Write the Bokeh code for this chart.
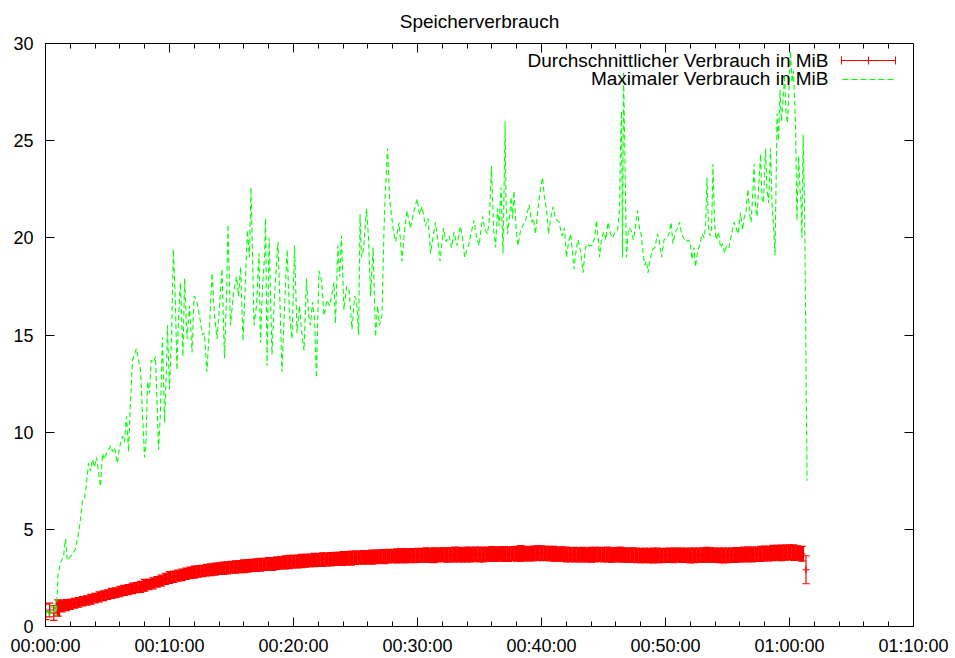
import numpy as np
from bokeh.plotting import figure
from bokeh.models import (ColumnDataSource, FixedTicker, Range1d, Grid,
                          Label, Arrow)
from bokeh.embed import file_html
from bokeh.resources import INLINE

FONT = "Liberation Sans"

# ---------------- data ----------------
title_text = "Speicherverbrauch"
label_avg = "Durchschnittlicher Verbrauch in MiB"
label_max = "Maximaler Verbrauch in MiB"

x_tick_secs = [0, 600, 1200, 1800, 2400, 3000, 3600, 4200]
x_tick_labels = ["00:00:00", "00:10:00", "00:20:00", "00:30:00",
                 "00:40:00", "00:50:00", "01:00:00", "01:10:00"]
x_minor_secs = list(range(0, 4201, 120))
y_tick_vals = [0, 5, 10, 15, 20, 25, 30]

# maximum usage (green), time in seconds
max_t = [
    0, 10, 19, 29, 39, 48, 53, 60, 73, 87,
    97, 106, 121, 135, 145, 160, 169, 179, 189, 198,
    208, 218, 227, 237, 247, 256, 266, 276, 285, 295,
    305, 315, 324, 334, 348, 358, 373, 382, 392, 402,
    411, 421, 431, 440, 450, 460, 469, 479, 486, 494,
    503, 511, 523, 532, 540, 547, 556, 566, 576, 586,
    590, 600, 610, 619, 629, 636, 644, 653, 665, 673,
    685, 697, 709, 719, 731, 745, 760, 769, 781, 794,
    806, 818, 830, 842, 854, 866, 876, 883, 895, 910,
    924, 934, 944, 956, 968, 977, 987, 994, 1002, 1009,
    1021, 1033, 1040, 1050, 1060, 1065, 1072, 1082, 1096, 1108,
    1125, 1135, 1144, 1157, 1169, 1181, 1193, 1205, 1217, 1229,
    1239, 1251, 1263, 1273, 1282, 1292, 1302, 1311, 1323, 1336,
    1348, 1362, 1374, 1384, 1396, 1403, 1415, 1423, 1432, 1444,
    1457, 1469, 1483, 1496, 1505, 1515, 1522, 1529, 1539, 1553,
    1563, 1573, 1585, 1597, 1607, 1616, 1628, 1638, 1645, 1655,
    1665, 1674, 1684, 1694, 1711, 1725, 1737, 1749, 1766, 1781,
    1798, 1810, 1822, 1839, 1851, 1863, 1875, 1887, 1897, 1909,
    1926, 1938, 1953, 1965, 1977, 1991, 2008, 2018, 2028, 2049,
    2061, 2073, 2086, 2098, 2115, 2124, 2139, 2148, 2158, 2168,
    2178, 2187, 2195, 2204, 2214, 2224, 2228, 2236, 2245, 2253,
    2260, 2267, 2277, 2286, 2299, 2308, 2323, 2340, 2352, 2361,
    2371, 2383, 2395, 2405, 2415, 2424, 2434, 2444, 2456, 2468,
    2485, 2499, 2511, 2521, 2531, 2540, 2548, 2557, 2569, 2577,
    2589, 2601, 2613, 2623, 2632, 2645, 2657, 2666, 2674, 2681,
    2690, 2703, 2712, 2722, 2734, 2744, 2756, 2768, 2778, 2782,
    2787, 2792, 2797, 2804, 2811, 2821, 2833, 2845, 2855, 2865,
    2874, 2882, 2889, 2899, 2908, 2915, 2928, 2937, 2949, 2961,
    2971, 2981, 2993, 3005, 3017, 3027, 3036, 3049, 3058, 3068,
    3078, 3087, 3099, 3109, 3119, 3128, 3138, 3145, 3155, 3165,
    3177, 3187, 3194, 3201, 3208, 3216, 3223, 3230, 3237, 3245,
    3257, 3266, 3276, 3286, 3295, 3307, 3320, 3332, 3342, 3351,
    3363, 3373, 3380, 3390, 3399, 3407, 3414, 3421, 3429, 3436,
    3443, 3450, 3460, 3467, 3474, 3484, 3491, 3499, 3508, 3516,
    3523, 3530, 3540, 3547, 3554, 3561, 3569, 3576, 3583, 3590,
    3597, 3605, 3612, 3619, 3629, 3636, 3644, 3651, 3656, 3660,
    3666, 3673, 3685,
]
max_v = [
    0.6, 0.9, 0.5, 1.1, 0.7, 1.2, 0.5, 2.6, 3.3, 3.6,
    4.5, 3.4, 3.6, 3.8, 4.0, 4.8, 5.5, 6.5, 6.6, 7.3,
    8.4, 8.0, 8.6, 8.2, 8.7, 8.0, 7.2, 8.9, 8.6, 8.9,
    9.1, 9.3, 9.0, 9.2, 8.4, 9.2, 9.8, 9.5, 10.8, 9.0,
    11.5, 13.7, 14.0, 14.3, 13.7, 13.2, 11.0, 8.7, 9.5, 12.6,
    12.0, 13.7, 13.6, 13.9, 11.5, 9.1, 11.0, 14.9, 10.5, 13.5,
    15.5, 12.2, 15.0, 19.4, 16.5, 13.2, 16.0, 17.7, 13.9, 17.9,
    14.8, 16.5, 14.1, 17.0, 16.8, 16.0, 15.0, 15.1, 13.1, 15.5,
    18.2, 16.0, 14.8, 16.5, 18.4, 13.8, 17.0, 20.7, 15.5, 17.2,
    18.0, 17.0, 18.5, 14.7, 18.0, 20.4, 19.0, 22.6, 19.0, 15.5,
    16.5, 19.2, 14.6, 17.5, 19.0, 21.0, 13.4, 20.0, 14.0, 17.0,
    19.8, 16.5, 13.1, 16.5, 19.4, 16.0, 14.8, 19.6, 15.1, 16.5,
    15.2, 14.2, 17.9, 16.0, 15.5, 16.7, 15.8, 12.8, 18.3, 17.8,
    16.0, 16.8, 16.5, 17.0, 17.7, 15.6, 19.6, 18.0, 20.1, 16.3,
    17.5, 17.3, 15.3, 17.0, 16.8, 15.0, 21.2, 19.0, 19.4, 21.5,
    20.0, 17.0, 19.5, 14.9, 16.5, 15.5, 16.0, 20.5, 22.5, 24.6,
    22.0, 21.2, 20.3, 19.8, 20.8, 18.8, 20.3, 21.4, 20.5, 21.3,
    22.0, 21.2, 21.6, 20.6, 21.0, 19.2, 20.0, 20.8, 20.0, 18.8,
    20.5, 19.8, 20.1, 19.5, 20.3, 19.6, 20.6, 20.0, 19.0, 19.7,
    20.3, 20.9, 20.0, 19.6, 21.1, 20.5, 20.2, 21.0, 23.7, 20.5,
    19.5, 21.5, 20.6, 22.6, 19.2, 26.0, 22.0, 20.2, 21.0, 22.1,
    21.0, 22.4, 20.5, 19.6, 20.4, 20.6, 20.9, 21.7, 20.8, 21.0,
    20.2, 21.5, 22.5, 23.1, 22.0, 21.5, 20.2, 21.0, 21.6, 21.0,
    20.8, 20.1, 20.5, 19.0, 19.8, 20.2, 19.5, 18.4, 19.5, 19.9,
    19.3, 18.2, 19.5, 19.7, 19.6, 19.6, 20.0, 20.9, 20.0, 19.0,
    20.0, 20.3, 19.9, 20.8, 20.2, 20.0, 20.3, 20.4, 21.5, 24.6,
    26.5, 19.0, 28.5, 24.0, 19.0, 20.5, 20.4, 19.9, 20.6, 21.4,
    20.5, 20.2, 19.5, 18.6, 18.8, 18.2, 19.0, 19.4, 19.5, 20.2,
    19.8, 19.0, 19.9, 20.0, 20.2, 20.8, 19.7, 20.3, 20.5, 20.8,
    20.2, 20.0, 19.8, 19.9, 19.8, 18.9, 19.5, 18.5, 19.3, 19.6,
    20.2, 20.0, 20.6, 23.1, 20.5, 20.1, 20.5, 23.8, 20.8, 19.9,
    20.3, 19.5, 19.7, 19.2, 19.6, 19.5, 20.2, 20.8, 20.5, 20.2,
    21.3, 20.4, 21.0, 21.4, 22.5, 21.2, 20.8, 22.0, 23.8, 21.5,
    21.1, 22.5, 24.3, 22.0, 21.8, 24.6, 22.5, 21.8, 24.6, 21.6,
    20.5, 19.1, 26.4, 25.0, 27.6, 26.0, 27.1, 28.4, 26.5, 25.9,
    27.5, 29.6, 28.0, 28.6, 25.9, 20.9, 24.2, 22.5, 21.8, 20.0,
    25.3, 21.6, 7.5,
]

# average usage (red) with error, sampled every 20 s
avg_t = list(range(0, 3700, 20))
avg_v = [
    0.75, 0.85, 0.70, 0.95, 1.05, 1.10, 1.14, 1.20, 1.24, 1.30,
    1.34, 1.40, 1.46, 1.52, 1.58, 1.64, 1.70, 1.74, 1.80, 1.86,
    1.90, 1.96, 2.00, 2.04, 2.12, 2.16, 2.22, 2.30, 2.36, 2.45,
    2.52, 2.56, 2.62, 2.66, 2.72, 2.76, 2.80, 2.84, 2.86, 2.90,
    2.92, 2.95, 2.98, 3.00, 3.02, 3.05, 3.06, 3.08, 3.10, 3.12,
    3.14, 3.16, 3.18, 3.20, 3.22, 3.22, 3.26, 3.28, 3.30, 3.32,
    3.34, 3.35, 3.37, 3.38, 3.40, 3.42, 3.42, 3.44, 3.45, 3.46,
    3.48, 3.48, 3.50, 3.52, 3.52, 3.54, 3.55, 3.56, 3.56, 3.57,
    3.58, 3.60, 3.60, 3.62, 3.62, 3.63, 3.64, 3.64, 3.65, 3.65,
    3.66, 3.66, 3.68, 3.66, 3.67, 3.68, 3.70, 3.68, 3.69, 3.70,
    3.70, 3.69, 3.71, 3.70, 3.72, 3.71, 3.70, 3.72, 3.73, 3.72,
    3.74, 3.73, 3.72, 3.75, 3.74, 3.76, 3.75, 3.74, 3.76, 3.78,
    3.77, 3.76, 3.75, 3.74, 3.72, 3.73, 3.71, 3.70, 3.70, 3.69,
    3.70, 3.68, 3.69, 3.70, 3.71, 3.69, 3.70, 3.68, 3.69, 3.70,
    3.68, 3.67, 3.68, 3.66, 3.65, 3.66, 3.64, 3.65, 3.66, 3.65,
    3.66, 3.67, 3.66, 3.68, 3.67, 3.66, 3.65, 3.66, 3.67, 3.68,
    3.69, 3.68, 3.67, 3.66, 3.65, 3.66, 3.67, 3.68, 3.69, 3.70,
    3.71, 3.70, 3.72, 3.74, 3.76, 3.75, 3.78, 3.80, 3.79, 3.80,
    3.82, 3.80, 3.78, 3.74, 2.92,
]
avg_err = [
    0.40, 0.35, 0.38, 0.42, 0.30, 0.28, 0.26, 0.25, 0.25, 0.24,
    0.24, 0.25, 0.24, 0.26, 0.25, 0.24, 0.26, 0.25, 0.27, 0.26,
    0.26, 0.27, 0.26, 0.28, 0.30, 0.27, 0.28, 0.27, 0.28, 0.29,
    0.30, 0.29, 0.28, 0.30, 0.29, 0.30, 0.31, 0.30, 0.29, 0.30,
    0.30, 0.31, 0.30, 0.32, 0.31, 0.30, 0.32, 0.31, 0.33, 0.32,
    0.31, 0.32, 0.33, 0.31, 0.32, 0.33, 0.32, 0.31, 0.33, 0.34,
    0.32, 0.33, 0.34, 0.33, 0.32, 0.34, 0.33, 0.35, 0.33, 0.34,
    0.34, 0.33, 0.35, 0.34, 0.36, 0.34, 0.33, 0.35, 0.34, 0.36,
    0.35, 0.34, 0.36, 0.35, 0.34, 0.36, 0.35, 0.37, 0.35, 0.36,
    0.36, 0.35, 0.37, 0.36, 0.38, 0.36, 0.35, 0.37, 0.36, 0.38,
    0.37, 0.36, 0.38, 0.37, 0.36, 0.38, 0.37, 0.36, 0.38, 0.37,
    0.36, 0.38, 0.37, 0.36, 0.38, 0.40, 0.37, 0.36, 0.38, 0.37,
    0.38, 0.36, 0.37, 0.38, 0.36, 0.37, 0.38, 0.36, 0.37, 0.36,
    0.37, 0.36, 0.38, 0.37, 0.36, 0.37, 0.38, 0.37, 0.36, 0.38,
    0.37, 0.36, 0.37, 0.38, 0.36, 0.37, 0.36, 0.38, 0.37, 0.36,
    0.36, 0.37, 0.38, 0.36, 0.37, 0.36, 0.38, 0.37, 0.36, 0.37,
    0.38, 0.37, 0.36, 0.37, 0.38, 0.37, 0.36, 0.38, 0.37, 0.38,
    0.37, 0.38, 0.37, 0.39, 0.38, 0.37, 0.39, 0.38, 0.40, 0.39,
    0.38, 0.40, 0.37, 0.38, 0.72,
]

# ---------------- figure ----------------
RED = "#ff0000"
GREEN = "#00ff00"
X0, X1, Y0, Y1 = 0, 4200, 0, 30
FRAME_W, FRAME_H = 868, 585   # plot frame in pixels

p = figure(width=955, height=658, output_backend="svg", toolbar_location=None,
           x_range=Range1d(X0, X1), y_range=Range1d(Y0, Y1),
           min_border_left=45, min_border_right=42,
           min_border_top=43, min_border_bottom=30)
p.xgrid.visible = False
p.ygrid.visible = False
p.background_fill_color = "white"
p.border_fill_color = "white"
p.outline_line_color = "black"
p.outline_line_width = 1

p.title.text = title_text
p.title.align = "center"
p.title.vertical_align = "top"
p.title.text_font = FONT
p.title.text_font_size = "19px"
p.title.text_font_style = "normal"
p.title.text_color = "black"
p.title.standoff = 20

x_ticker = FixedTicker(ticks=x_tick_secs, minor_ticks=x_minor_secs)
y_ticker = FixedTicker(ticks=y_tick_vals, minor_ticks=[])


def style_axis(ax, minor=True):
    ax.axis_line_color = "black"
    ax.major_tick_line_color = "black"
    ax.minor_tick_line_color = "black"
    ax.major_tick_in = 9
    ax.major_tick_out = 0
    ax.minor_tick_in = 5 if minor else 0
    ax.minor_tick_out = 0
    ax.major_label_text_font = FONT
    ax.major_label_text_color = "black"
    ax.major_label_text_font_size = "18px"


xb = p.xaxis[0]
xb.ticker = x_ticker
xb.major_label_overrides = {s: l for s, l in zip(x_tick_secs, x_tick_labels)}
style_axis(xb)
xb.major_label_standoff = 9

yl = p.yaxis[0]
yl.ticker = y_ticker
style_axis(yl, minor=False)
yl.major_label_standoff = 12

# mirrored tick marks on the top and right edges (short grid segments)
px_y = (Y1 - Y0) / FRAME_H
px_x = (X1 - X0) / FRAME_W
p.add_layout(Grid(dimension=0, ticker=FixedTicker(ticks=x_tick_secs),
                  cross_bounds=(Y1 - 9 * px_y, Y1), grid_line_color="black"))
p.add_layout(Grid(dimension=0, ticker=FixedTicker(ticks=x_minor_secs),
                  cross_bounds=(Y1 - 5 * px_y, Y1), grid_line_color="black"))
p.add_layout(Grid(dimension=1, ticker=FixedTicker(ticks=y_tick_vals),
                  cross_bounds=(X1 - 9 * px_x, X1), grid_line_color="black"))

# ---------------- data glyphs ----------------
t = np.array(avg_t, dtype=float)
m = np.array(avg_v)
e = np.array(avg_err)
CAP = 18.0  # half width of error bar caps, seconds
lw = np.full(len(t), 4.5)
lw[:3] = 1.2   # isolated bars at the very start
lw[-1] = 1.2   # isolated last bar
src = ColumnDataSource(dict(t=t, m=m, lo=m - e, hi=m + e,
                            c0=t - CAP, c1=t + CAP, lw=lw))

p.segment(x0="t", y0="lo", x1="t", y1="hi", source=src,
          line_color=RED, line_width="lw")
p.segment(x0="c0", y0="hi", x1="c1", y1="hi", source=src,
          line_color=RED, line_width=1.2)
p.segment(x0="c0", y0="lo", x1="c1", y1="lo", source=src,
          line_color=RED, line_width=1.2)
p.scatter(x="t", y="m", source=src, marker="cross", size=7,
          line_color=RED, line_width=1.2)

p.line(max_t, max_v, line_color=GREEN, line_width=1.1, line_dash="5 3")

# ---------------- key (screen units inside the frame) ----------------
for txt, yy in ((label_avg, 566), (label_max, 548)):
    p.add_layout(Label(x=783, y=yy, x_units="screen", y_units="screen",
                       text=txt, text_align="right", text_baseline="middle",
                       text_font=FONT, text_font_size="19px",
                       text_color="black"))


def key_line(xa, ya, xb_, yb, color, dash="solid"):
    p.add_layout(Arrow(x_start=xa, y_start=ya, x_end=xb_, y_end=yb,
                       start_units="screen", end_units="screen",
                       start=None, end=None, line_color=color,
                       line_width=1, line_dash=dash))


# red error-bar sample
key_line(796, 566, 850, 566, RED)
key_line(796, 562, 796, 570, RED)
key_line(850, 562, 850, 570, RED)
key_line(823, 562, 823, 570, RED)
# green dashed sample
key_line(797, 547, 850, 547, GREEN, "6 3")

open("out.html", "w").write(file_html(p, INLINE))
